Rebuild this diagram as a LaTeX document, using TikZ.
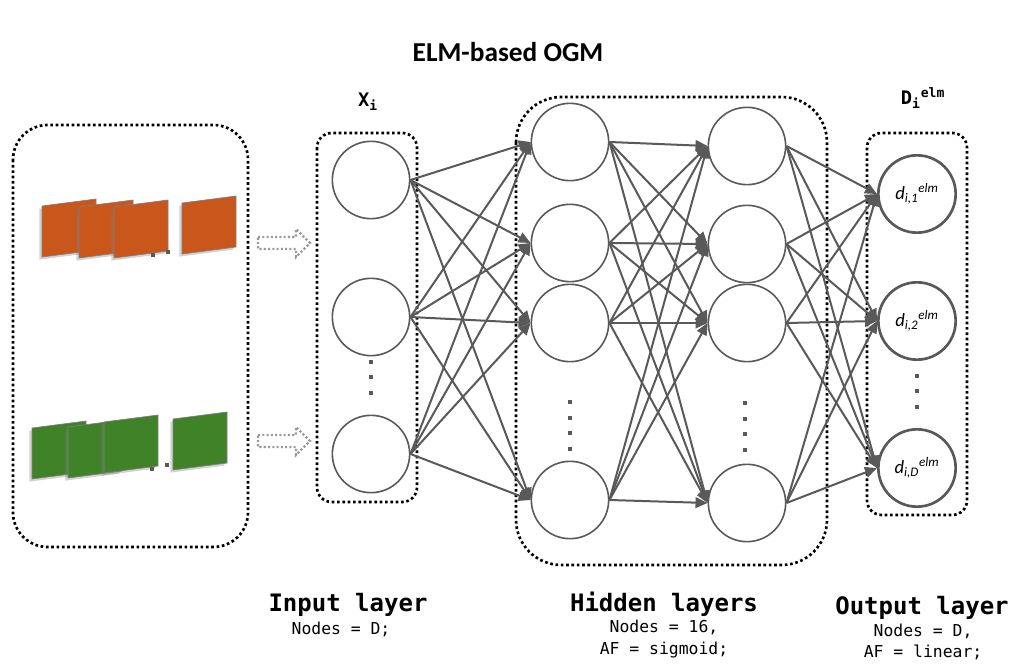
\documentclass[tikz,border=0pt]{standalone}
\usepackage{fontspec}
\setmainfont{Carlito}
\setmonofont{DejaVu Sans Mono}
\usetikzlibrary{arrows.meta,shadows}
\definecolor{wire}{RGB}{89,89,89}
\definecolor{slaborange}{RGB}{201,86,26}
\definecolor{slabgreen}{RGB}{64,130,40}
\tikzset{
  neuron/.style={
    shape = circle,
    draw = wire,
    line width = 1.2pt,
    minimum size = 58pt,
    inner sep = 0pt
  },
  outneuron/.style={
    neuron,
    line width = 2pt,
    font = \itshape\fontsize{14}{15}\selectfont
  },
  layerbox/.style={
    draw = black,
    line width = 2pt,
    dash pattern = on 2pt off 2pt
  },
  wirearrow/.style={
    draw = wire,
    line width = 1.5pt,
    -{Triangle[length=9pt,width=8pt]}
  },
  gapdot/.style={
    fill = wire,
    minimum size = 3pt,
    inner sep = 0pt
  },
  slab/.style={
    draw = gray,
    line width = 0.5pt,
    drop shadow = {shadow xshift=-2pt, shadow yshift=-2pt, opacity=0.35}
  },
  flowarrow/.style={
    draw = gray!80,
    line width = 1.6pt,
    dash pattern = on 1.6pt off 1.6pt
  },
  layertitle/.style={font=\ttfamily\bfseries\fontsize{18}{20}\selectfont},
  layerinfo/.style={font=\ttfamily\fontsize{12.3}{16}\selectfont, align=center}
}

\begin{document}
\begin{tikzpicture}[x=0.75pt,y=-0.75pt]
  \useasboundingbox (0,0) rectangle (1016,666);
  \node[font=\bfseries\fontsize{20.5}{24}\selectfont] (title) at (508,52) {ELM-based OGM};

  % dotted frames
  \draw[layerbox, rounded corners=26pt] (13,125) rectangle (248,547);
  \draw[layerbox, rounded corners=11pt] (317,133) rectangle (417,502);
  \draw[layerbox, rounded corners=34pt] (516,97) rectangle (827,565);
  \draw[layerbox, rounded corners=11pt] (867,133) rectangle (967,515);

  % stacks of maps
  \foreach \x/\y/\c in {42/206/slaborange,79/207/slaborange,114/207/slaborange,182/203/slaborange,
                        32/428/slabgreen,68/427/slabgreen,104/422/slabgreen,173/419/slabgreen}{
    \filldraw[slab, fill=\c] (\x,\y) --++ (54,-7) --++ (0,51) --++ (-54,7) -- cycle;
  }
  \foreach \x/\y in {153/255,168/252,152/469,167/465}{
    \node[gapdot, minimum size=2.5pt] at (\x,\y) {};
  }
  \foreach \y in {243,441}{
    \draw[flowarrow] (258,\y-6) -- (296,\y-6) -- (296,\y-14) -- (310,\y)
      -- (296,\y+14) -- (296,\y+6) -- (258,\y+6) -- cycle;
  }

  % layers
  \foreach \n/\y in {1/180,2/317,3/454}{
    \node[neuron] (in\n) at (371,\y) {};
  }
  \foreach \n/\y in {1/142,2/243,3/323,4/500}{
    \node[neuron] (hA\n) at (570,\y) {};
  }
  \foreach \n/\y in {1/146,2/244,3/323,4/503}{
    \node[neuron] (hB\n) at (747,\y) {};
  }
  \foreach \n/\s/\y in {1/1/194,2/2/321,3/D/468}{
    \node[outneuron] (out\n) at (917,\y) {d\textsubscript{i,\s}\textsuperscript{elm}};
  }

  % gaps
  \foreach \y in {362,377,393}{\node[gapdot] at (371,\y) {};}
  \foreach \y in {402,418,433,449}{\node[gapdot] at (570,\y) {};}
  \foreach \y in {403,419,434,450}{\node[gapdot] at (745,\y) {};}
  \foreach \y in {376,391,407}{\node[gapdot] at (917,\y) {};}

  % connections
  \foreach \a in {1,2,3}{
    \foreach \b in {1,...,4}{
      \draw[wirearrow] (in\a.east) -- (hA\b.west);
    }
  }
  \foreach \a in {1,...,4}{
    \foreach \b in {1,...,4}{
      \draw[wirearrow] (hA\a.east) -- (hB\b.west);
    }
  }
  \foreach \a in {1,...,4}{
    \foreach \b in {1,2,3}{
      \draw[wirearrow] (hB\a.east) -- (out\b.west);
    }
  }

  % labels
  \node[font=\ttfamily\bfseries\fontsize{14}{15}\selectfont] (xin) at (368,102) {X\textsubscript{i}};
  \node[font=\ttfamily\bfseries\fontsize{14}{15}\selectfont] (dout) at (923,98) {D\textsubscript{i}\textsuperscript{elm}};

  \node[layertitle] (tin) at (348,605) {Input layer};
  \node[layerinfo] (iin) at (341,629) {Nodes = D;};
  \node[layertitle] (thid) at (664,604) {Hidden layers};
  \node[layerinfo] (ihid) at (664,639) {Nodes = 16,\\AF = sigmoid;};
  \node[layertitle] (tout) at (922,608) {Output layer};
  \node[layerinfo] (iout) at (923,642) {Nodes = D,\\AF = linear;};
\end{tikzpicture}
\end{document}
